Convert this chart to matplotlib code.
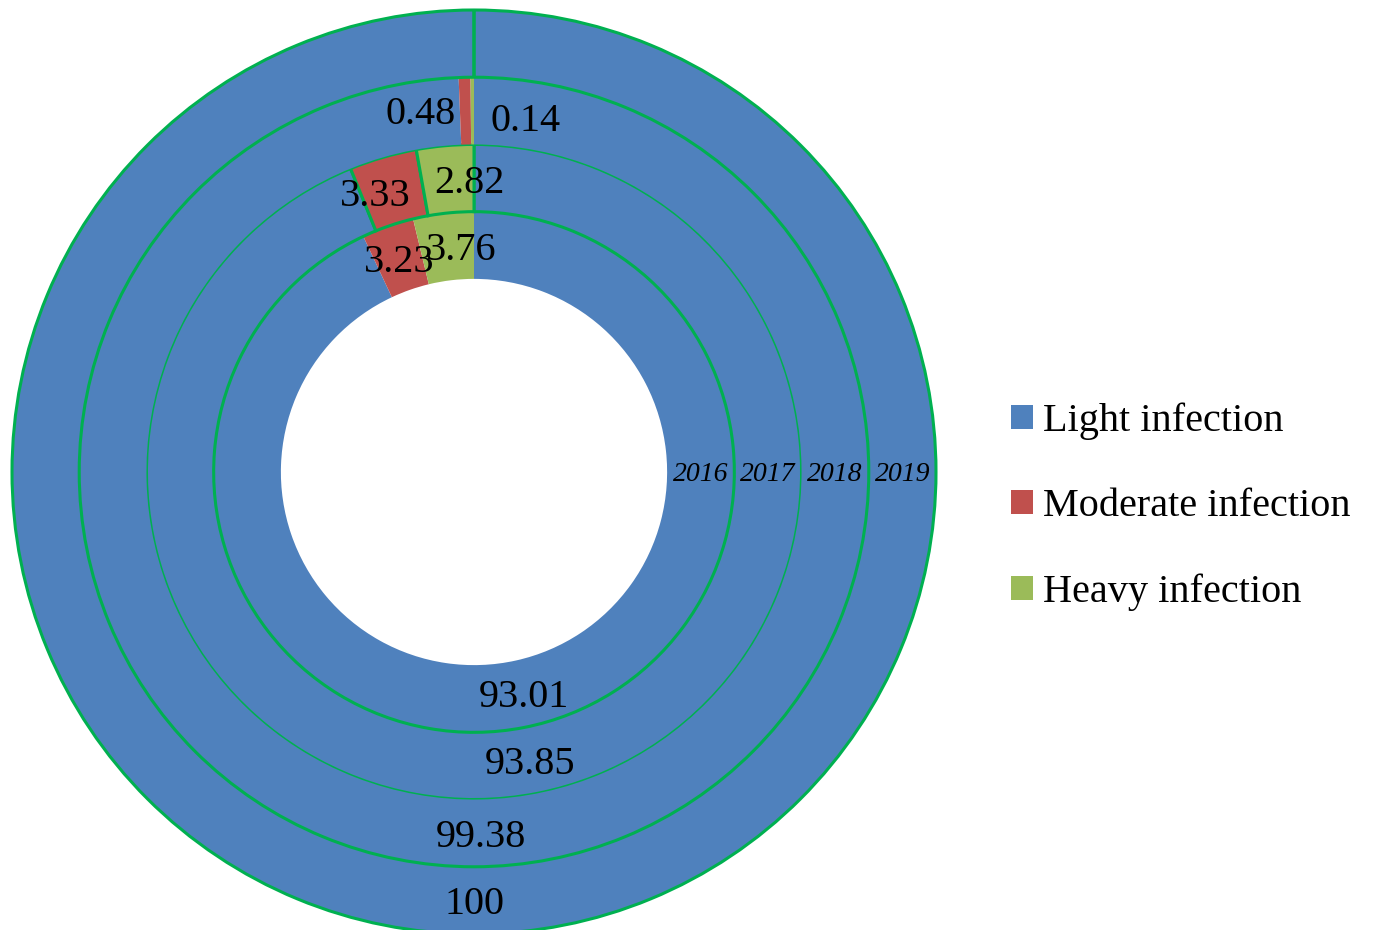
import numpy as np
import matplotlib.pyplot as plt
from matplotlib.patches import Patch

plt.rcParams['font.family'] = ['Liberation Serif', 'DejaVu Serif']

years = ['2016', '2017', '2018', '2019']
categories = ['Light infection', 'Moderate infection', 'Heavy infection']
light = [93.01, 93.85, 99.38, 100]
moderate = [3.23, 3.33, 0.48, 0]
heavy = [3.76, 2.82, 0.14, 0]

colors = ['#4F81BD', '#C0504D', '#9BBB59']
edge_green = '#00B050'

# ring geometry (outer radius = 1)
hole = 0.418
width = 0.1455
# rings that carry the green outline in the original
outlined = [False, True, False, True]

# small label nudges in pixels (ring index, category index) -> (dx, dy)
nudge = {(2, 1): (-45, 0), (2, 2): (53, -7), (1, 1): (-17, -3),
         (1, 2): (21, 0), (0, 2): (14, 0)}

fig = plt.figure(figsize=(13.73, 9.30), dpi=100)
R_px = 462
cx, cy = 474, 930 - 472
ax = fig.add_axes([(cx - R_px) / 1373, (cy - R_px) / 930, 2 * R_px / 1373, 2 * R_px / 930])

for i, yr in enumerate(years):
    vals = [light[i], moderate[i], heavy[i]]
    r_out = hole + width * (i + 1)
    if outlined[i]:
        wp = dict(width=width, edgecolor=edge_green, linewidth=2.2)
    else:
        wp = dict(width=width, edgecolor='none', linewidth=0)
    wedges, _ = ax.pie(vals, radius=r_out, colors=colors, startangle=90,
                       counterclock=False, wedgeprops=wp, normalize=True)
    for w in wedges:
        w.set_clip_on(False)

    r_mid = r_out - width / 2
    cum = 0
    for j, v in enumerate(vals):
        if v > 0:
            ang = np.deg2rad(90 - (cum + v / 2) / 100 * 360)
            dx, dy = nudge.get((i, j), (0, 0))
            x = r_mid * np.cos(ang) + dx / R_px
            y = r_mid * np.sin(ang) + (dy - 4) / R_px
            ax.text(x, y, f'{v:g}', ha='center', va='center', fontsize=29,
                    color='black')
        cum += v
    ax.text(r_mid, -2 / R_px, yr, ha='center', va='center', fontsize=20,
            style='italic', color='black')

# pie() resets the limits, so set them afterwards
ax.set_aspect('auto')
ax.set_xlim(-1, 1)
ax.set_ylim(-1, 1)
ax.axis('off')

handles = [Patch(facecolor=c, edgecolor='none') for c in colors]
fig.legend(handles, categories, loc='center left',
           bbox_to_anchor=(975 / 1373, 1 - 507 / 930), frameon=False,
           fontsize=29, handlelength=0.55, handleheight=0.55,
           handletextpad=0.25, labelspacing=1.2)

fig.savefig('out.png', dpi=100)
